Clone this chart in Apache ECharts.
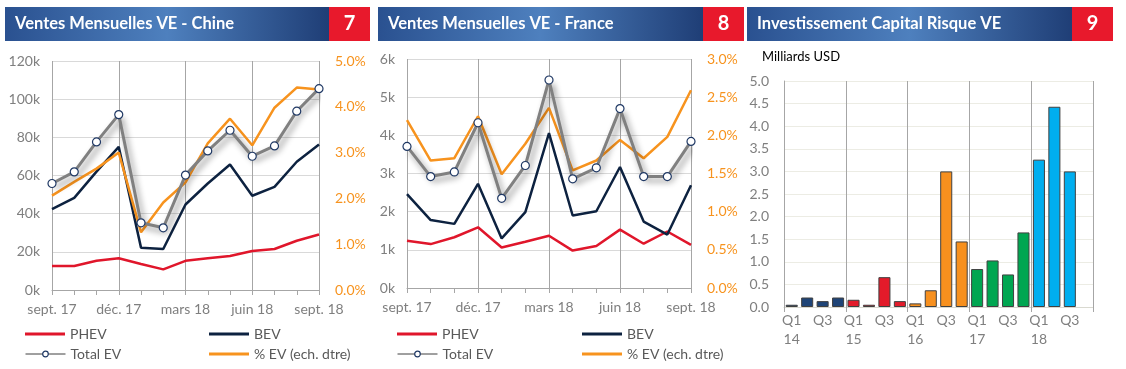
<!DOCTYPE html>
<html><head><meta charset="utf-8">
<script src="https://cdn.jsdelivr.net/npm/echarts@6/dist/echarts.min.js"></script>
<style>html,body{margin:0;padding:0;background:#fff}#c{width:1126px;height:369px}</style>
</head><body><div id="c"></div>
<script>
// ---------- DATA ----------
const months = ['sept. 17','oct. 17','nov. 17','déc. 17','janv. 18','févr. 18','mars 18','avr. 18','mai 18','juin 18','juil. 18','août 18','sept. 18'];
// Chine (milliers de véhicules)
const chinaPHEV  = [12.6,12.6,15.3,16.6,13.6,10.8,15.3,16.6,17.8,20.4,21.5,25.8,29.1];
const chinaBEV   = [42.4,48.3,62.0,75.0,22.2,21.5,44.8,55.8,65.8,49.4,54.0,67.2,76.2];
const chinaTotal = [55.8,61.9,77.6,91.9,35.2,32.6,60.2,72.9,83.7,70.1,75.5,93.7,105.5];
const chinaShare = [2.06,2.36,2.65,3.00,1.26,1.91,2.35,3.20,3.74,3.16,3.98,4.42,4.38];
// France (milliers de véhicules)
const francePHEV  = [1.24,1.15,1.33,1.59,1.06,1.21,1.37,0.98,1.10,1.53,1.16,1.48,1.13];
const franceBEV   = [2.46,1.78,1.68,2.73,1.30,1.99,4.06,1.90,2.01,3.17,1.74,1.40,2.69];
const franceTotal = [3.71,2.92,3.04,4.33,2.35,3.21,5.45,2.86,3.15,4.70,2.92,2.92,3.84];
const franceShare = [2.20,1.67,1.70,2.25,1.49,1.89,2.36,1.54,1.67,1.94,1.70,1.98,2.59];
// Investissement capital risque (milliards USD)
const quarters = ['Q1\n14','Q2','Q3','Q4','Q1\n15','Q2','Q3','Q4','Q1\n16','Q2','Q3','Q4','Q1\n17','Q2','Q3','Q4','Q1\n18','Q2','Q3','Q4'];
const vcInvest = [0.05,0.21,0.13,0.21, 0.16,0.05,0.66,0.13, 0.08,0.37,3.00,1.45, 0.84,1.03,0.72,1.65, 3.26,4.43,3.00,null];
const yearColors = ['#1F4477','#E31B2A','#F7901E','#00A651','#00AEEF'];
// Text
const titles = ['Ventes Mensuelles VE - Chine','Ventes Mensuelles VE - France','Investissement Capital Risque VE'];
const numbers = ['7','8','9'];

// ---------- CHART ----------
const FONT = 'Lato';
const GRAY = '#7F7F7F';
const ORANGE = '#F7931E';
const RED = '#E0162B';
const NAVY = '#0D2240';
const chart = echarts.init(document.getElementById('c'), null, {renderer:'canvas'});

function header(x, w, title, num){
  return [
    {type:'rect', shape:{x:x, y:7, width:w-41, height:34},
     style:{fill:new echarts.graphic.LinearGradient(0,0,1,0,[
       {offset:0,color:'#2A5190'},{offset:0.5,color:'#4E80BE'},{offset:1,color:'#1F3E76'}])}},
    {type:'rect', shape:{x:x+w-41, y:7, width:41, height:34}, style:{fill:'#E8192C'}},
    {type:'text', x:x+10, y:24, style:{text:title, fill:'#fff', font:'bold 16.5px '+FONT, textVerticalAlign:'middle'}},
    {type:'text', x:x+w-20.5, y:24, style:{text:num, fill:'#fff', font:'bold 20px '+FONT, textAlign:'center', textVerticalAlign:'middle'}}
  ];
}

const lblStyle = {color:GRAY, fontSize:14, fontFamily:FONT};

function lineX(grid){
  return {type:'category', gridIndex:grid, data:months, boundaryGap:false,
    axisLine:{lineStyle:{color:'#A6A6A6'}},
    axisTick:{show:true, interval:0, length:5, lineStyle:{color:'#A6A6A6'}},
    axisLabel:Object.assign({interval:2, margin:12}, lblStyle),
    splitLine:{show:true, interval:2, lineStyle:{color:'#A6A6A6'}}};
}
function leftY(grid, max, interval){
  return {type:'value', gridIndex:grid, min:0, max:max, interval:interval,
    axisLabel:Object.assign({margin:12, formatter:v=>v+'k'}, lblStyle),
    splitLine:{lineStyle:{color:'#D9D9D9'}}, axisLine:{show:false}, axisTick:{show:false}};
}
function rightY(grid, max, interval){
  return {type:'value', gridIndex:grid, position:'right', min:0, max:max, interval:interval,
    axisLabel:{margin:16, color:ORANGE, fontSize:14, fontFamily:FONT, formatter:v=>v.toFixed(1)+'%'},
    splitLine:{show:false}, axisLine:{show:false}, axisTick:{show:false}};
}
function lineSeries(name, xi, yi, data, color, extra){
  return Object.assign({name:name, type:'line', xAxisIndex:xi, yAxisIndex:yi, data:data,
    symbol:'none', lineStyle:{color:color, width:2.5}, itemStyle:{color:color}, animation:false}, extra||{});
}
function totalSeries(xi, yi, data){
  return {name:'Total EV', type:'line', xAxisIndex:xi, yAxisIndex:yi, data:data,
    symbol:'circle', symbolSize:8, z:5,
    lineStyle:{color:'#808080', width:3, shadowColor:'rgba(0,0,0,0.45)', shadowBlur:6, shadowOffsetX:3, shadowOffsetY:4},
    itemStyle:{color:'#fff', borderColor:'#1F3864', borderWidth:1.2}, animation:false};
}
const legTs = {color:'#595959', fontSize:14, fontFamily:FONT};
function lineLegend(left, top, name){
  return {left:left, top:top, icon:'rect', itemWidth:40, itemHeight:3, itemGap:4, padding:0,
          textStyle:legTs, data:[name], selectedMode:false};
}
function totalLegend(left, top){
  return {left:left, top:top, itemWidth:40, itemHeight:7, itemGap:4, padding:0, textStyle:legTs,
          lineStyle:{width:1, color:'#404040', shadowBlur:0, shadowOffsetX:0, shadowOffsetY:0},
          itemStyle:{color:'#fff', borderColor:'#1F3864', borderWidth:1.2},
          data:['Total EV'], selectedMode:false};
}
function legends(left1, left2){
  return [
    lineLegend(left1, 327, 'PHEV'),
    totalLegend(left1, 347),
    lineLegend(left2, 327, 'BEV'),
    lineLegend(left2, 347, '% EV (ech. dtre)')
  ];
}

const option = {
  backgroundColor:'#fff',
  textStyle:{fontFamily:FONT},
  graphic:[].concat(header(5,365,titles[0],numbers[0]), header(378,366,titles[1],numbers[1]), header(747,366,titles[2],numbers[2]),
    [{type:'text', x:762, y:57, style:{text:'Milliards USD', fill:'#000', font:'13px '+FONT, textVerticalAlign:'middle'}}]),
  legend:legends(25,209).concat(legends(397,582)),
  grid:[
    {left:52, right:1126-319, top:61, bottom:369-290},
    {left:407, right:1126-691, top:59, bottom:369-288},
    {left:784, right:1126-1093, top:81, bottom:369-307}
  ],
  xAxis:[lineX(0), lineX(1),
    {type:'category', gridIndex:2, data:quarters, boundaryGap:true,
     axisLine:{lineStyle:{color:'#D9D9D0'}},
     axisTick:{show:true, interval:(i)=>i%4===0, length:5, lineStyle:{color:'#A6A6A6'}},
     axisLabel:Object.assign({interval:1, margin:4, lineHeight:19}, lblStyle),
     splitLine:{show:true, interval:(i)=>i%4===0, lineStyle:{color:'#A6A6A6'}}}
  ],
  yAxis:[leftY(0,120,20), rightY(0,5,1), leftY(1,6,1), rightY(1,3,0.5),
    {type:'value', gridIndex:2, min:0, max:5, interval:0.5,
     axisLabel:Object.assign({margin:15, formatter:v=>v.toFixed(1)}, lblStyle),
     splitLine:{lineStyle:{color:'#ECECE4'}}, axisLine:{show:true, lineStyle:{color:'#A6A6A6'}}, axisTick:{show:false}}
  ],
  series:[
    lineSeries('PHEV',0,0,chinaPHEV,RED),
    lineSeries('BEV',0,0,chinaBEV,NAVY),
    lineSeries('% EV (ech. dtre)',0,1,chinaShare,ORANGE),
    totalSeries(0,0,chinaTotal),
    lineSeries('PHEV',1,2,francePHEV,RED),
    lineSeries('BEV',1,2,franceBEV,NAVY),
    lineSeries('% EV (ech. dtre)',1,3,franceShare,ORANGE),
    totalSeries(1,2,franceTotal),
    {type:'bar', name:'VC', xAxisIndex:2, yAxisIndex:4, barCategoryGap:'22%', animation:false,
     data:vcInvest.map((v,i)=>({value:v, itemStyle:{color:yearColors[Math.floor(i/4)]}})),
     itemStyle:{borderColor:'#404040', borderWidth:1}}
  ]
};
chart.setOption(option);
</script></body></html>
